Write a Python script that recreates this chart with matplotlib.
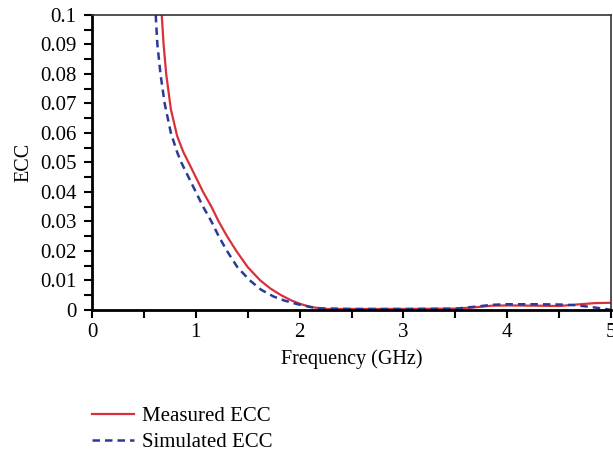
import matplotlib
matplotlib.use("Agg")
import matplotlib.pyplot as plt
import numpy as np
from matplotlib.ticker import MultipleLocator

# values
freq_meas = [0.672, 0.69, 0.715, 0.76, 0.82, 0.88, 0.93, 1.0, 1.07, 1.15, 1.22, 1.30, 1.39,
             1.50, 1.62, 1.72, 1.82, 1.92, 2.0, 2.1, 2.25, 2.5, 3.0, 3.5, 3.7, 3.85, 4.0,
             4.3, 4.5, 4.7, 4.85, 5.0]
ecc_meas = [0.1, 0.09, 0.08, 0.068, 0.059, 0.0535, 0.05, 0.045, 0.040, 0.035, 0.030, 0.025,
            0.020, 0.0145, 0.010, 0.0072, 0.005, 0.0032, 0.0021, 0.001, 0.0003, 0.0003,
            0.0003, 0.0004, 0.0009, 0.0014, 0.0015, 0.0014, 0.0013, 0.0019, 0.0023, 0.0024]

freq_sim = [0.614, 0.63, 0.66, 0.70, 0.76, 0.82, 0.86, 0.93, 1.0, 1.07, 1.15, 1.22, 1.30,
            1.40, 1.52, 1.63, 1.75, 1.85, 1.97, 2.1, 2.2, 2.5, 3.0, 3.5, 3.7, 3.85, 4.0,
            4.3, 4.5, 4.65, 4.8, 5.0]
ecc_sim = [0.1, 0.09, 0.08, 0.07, 0.06, 0.0535, 0.05, 0.045, 0.040, 0.035, 0.030, 0.025,
           0.020, 0.0145, 0.010, 0.0068, 0.0045, 0.0032, 0.002, 0.001, 0.0005, 0.0003,
           0.0003, 0.0004, 0.0011, 0.0017, 0.0019, 0.0019, 0.0018, 0.0016, 0.0010, 0.0]

plt.rcParams['font.family'] = ['Liberation Serif', 'DejaVu Serif']

fig = plt.figure(figsize=(6.13, 4.53), dpi=100)
ax = fig.add_axes([0.150, 0.316, 0.847, 0.651])

ax.plot(freq_meas, ecc_meas, color='#d9303a', lw=1.6, label='Measured ECC',
        solid_joinstyle='round')
ax.plot(freq_sim, ecc_sim, color='#2b3a96', lw=1.8, ls=(0, (3, 2)), label='Simulated ECC',
        dash_joinstyle='round')

ax.set_xlim(0, 5)
ax.set_ylim(0, 0.1)
ax.xaxis.set_major_locator(MultipleLocator(1))
ax.xaxis.set_minor_locator(MultipleLocator(0.5))
ax.yaxis.set_minor_locator(MultipleLocator(0.005))
ax.set_yticks(np.arange(0, 0.101, 0.01))
ax.set_yticklabels(['0'] + ['%g' % v for v in np.arange(0.01, 0.101, 0.01).round(2)])

ax.tick_params(which='both', direction='out', length=6, width=1.5, labelsize=15)
ax.tick_params(axis='y', pad=5)
for s in ['left', 'bottom']:
    ax.spines[s].set_linewidth(2)
    ax.spines[s].set_color('black')
for s in ['top', 'right']:
    ax.spines[s].set_linewidth(1.2)
    ax.spines[s].set_color('#333333')

ax.set_xlabel('Frequency (GHz)', fontsize=14.5, labelpad=5)
ax.set_ylabel('ECC', fontsize=14.5, labelpad=5)

fig.legend(loc='upper left', bbox_to_anchor=(0.150, 0.102), frameon=False,
           fontsize=15, handlelength=2.0, handletextpad=0.4, labelspacing=0.3,
           borderpad=0, borderaxespad=0)

fig.savefig('out.png', dpi=100)
